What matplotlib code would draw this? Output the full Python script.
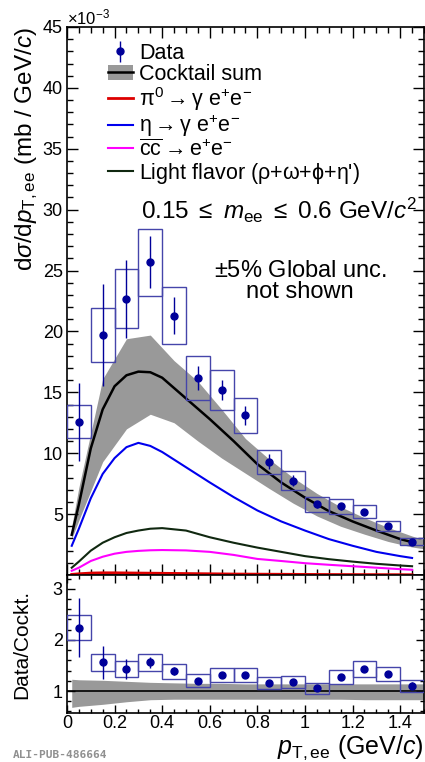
import matplotlib
matplotlib.use('Agg')
import matplotlib.pyplot as plt
from matplotlib.patches import Rectangle, Patch
from matplotlib.lines import Line2D
from matplotlib.ticker import MultipleLocator, FuncFormatter
import numpy as np

plt.rcParams['font.family'] = ['Liberation Sans', 'DejaVu Sans']
plt.rcParams['mathtext.fontset'] = 'custom'
plt.rcParams['mathtext.rm'] = 'Liberation Sans'
plt.rcParams['mathtext.it'] = 'Liberation Sans:italic'
plt.rcParams['mathtext.bf'] = 'Liberation Sans:bold'

# pT bin centres (GeV/c), bin width 0.1
pt_bins = [0.05, 0.15, 0.25, 0.35, 0.45, 0.55, 0.65, 0.75,
           0.85, 0.95, 1.05, 1.15, 1.25, 1.35, 1.45]
bin_width = 0.1

# dsigma/dpT in units of 1e-3 mb/(GeV/c)
xsec = [12.6, 19.7, 22.7, 25.7, 21.3, 16.2, 15.2, 13.1,
        9.3, 7.75, 5.8, 5.65, 5.2, 4.0, 2.75]
xsec_stat = [3.2, 4.2, 3.2, 2.1, 1.55, 1.0, 0.85, 0.75,
             0.6, 0.45, 0.3, 0.3, 0.25, 0.2, 0.15]
xsec_syst = [1.35, 2.2, 2.45, 2.75, 2.35, 1.8, 1.65, 1.4,
             1.0, 0.8, 0.6, 0.6, 0.55, 0.42, 0.27]

# data / cocktail
ratio = [2.24, 1.56, 1.43, 1.56, 1.39, 1.2, 1.32, 1.32,
         1.15, 1.17, 1.05, 1.28, 1.43, 1.33, 1.10]
ratio_stat = [0.58, 0.33, 0.2, 0.1, 0.08, 0.05, 0.05, 0.05,
              0.05, 0.05, 0.04, 0.05, 0.06, 0.06, 0.07]
ratio_syst = [0.245, 0.17, 0.155, 0.16, 0.145, 0.125, 0.14, 0.14,
              0.12, 0.12, 0.11, 0.14, 0.15, 0.14, 0.115]

# cocktail components (1e-3 mb/(GeV/c))
cocktail_pt = [0.02, 0.05, 0.1, 0.15, 0.2, 0.25, 0.3, 0.35, 0.4, 0.5,
               0.6, 0.7, 0.8, 0.9, 1.0, 1.1, 1.2, 1.3, 1.4, 1.45]
cocktail_sum = [3.3, 5.8, 10.4, 13.6, 15.5, 16.4, 16.7, 16.65, 16.2, 14.5,
                12.8, 11.0, 9.1, 7.6, 6.35, 5.25, 4.4, 3.65, 2.95, 2.7]
eta_ee = [2.4, 3.8, 6.3, 8.3, 9.6, 10.5, 10.85, 10.6, 10.1, 8.85,
          7.6, 6.4, 5.3, 4.4, 3.65, 2.95, 2.4, 1.9, 1.55, 1.4]
light_flavor = [0.6, 1.1, 2.0, 2.65, 3.1, 3.45, 3.65, 3.8, 3.85, 3.65,
                3.1, 2.65, 2.25, 1.9, 1.55, 1.3, 1.1, 0.92, 0.78, 0.72]
ccbar = [0.35, 0.6, 1.15, 1.5, 1.75, 1.9, 1.98, 2.03, 2.05, 2.02,
         1.9, 1.65, 1.32, 1.15, 0.97, 0.84, 0.72, 0.6, 0.48, 0.43]
pi0_ee = [0.05, 0.1, 0.16, 0.18, 0.18, 0.17, 0.16, 0.15, 0.14, 0.12,
          0.1, 0.08, 0.07, 0.06, 0.05, 0.04, 0.035, 0.03, 0.025, 0.02]

# cocktail uncertainty band
band_pt = [0.02, 0.05, 0.15, 0.25, 0.35, 0.45, 0.55, 0.65, 0.75,
           0.85, 0.95, 1.05, 1.15, 1.25, 1.35, 1.45, 1.5]
band_hi = [4.0, 7.2, 16.1, 19.4, 19.7, 17.6, 15.9, 13.6, 11.2,
           9.5, 8.0, 6.7, 5.6, 4.7, 3.9, 3.2, 2.9]
band_lo = [3.0, 4.5, 9.3, 12.0, 13.2, 12.5, 11.0, 9.6, 8.35,
           7.1, 5.9, 4.85, 4.0, 3.35, 2.75, 2.3, 2.15]
ratio_band_hi = [1.23, 1.22, 1.21, 1.19, 1.17, 1.16, 1.15, 1.15, 1.14,
                 1.14, 1.14, 1.14, 1.14, 1.14, 1.14, 1.14, 1.14]
ratio_band_lo = [0.68, 0.70, 0.74, 0.79, 0.83, 0.84, 0.84, 0.84, 0.84,
                 0.84, 0.84, 0.84, 0.84, 0.83, 0.83, 0.83, 0.83]

navy = '#000099'
box_col = '#4545aa'
grey = '#999999'

fig = plt.figure(figsize=(4.25, 7.62), dpi=100)
ax1 = fig.add_axes([0.1576, 0.2454, 0.84, 0.7192])
ax2 = fig.add_axes([0.1576, 0.0643, 0.84, 0.1811], sharex=ax1)


def draw_points(ax, vals, stat, syst):
    for x, v, s in zip(pt_bins, vals, syst):
        ax.add_patch(Rectangle((x - bin_width / 2, v - s), bin_width, 2 * s,
                               fill=False, ec=box_col, lw=1.0, zorder=4))
    return ax.errorbar(pt_bins, vals, yerr=stat, fmt='o', color=navy, ms=5,
                       elinewidth=1.0, capsize=0, zorder=5)


# upper panel
ax1.fill_between(band_pt, band_lo, band_hi, color=grey, lw=0, zorder=1)
l_sum, = ax1.plot(cocktail_pt, cocktail_sum, color='black', lw=1.8, zorder=3)
l_eta, = ax1.plot(cocktail_pt, eta_ee, color='#0000ee', lw=1.5, zorder=3)
l_lf, = ax1.plot(cocktail_pt, light_flavor, color='#102810', lw=1.5, zorder=3)
l_cc, = ax1.plot(cocktail_pt, ccbar, color='#ff00ff', lw=1.5, zorder=3)
l_pi0, = ax1.plot(cocktail_pt, pi0_ee, color='#dd0000', lw=2.0, zorder=3)
h_data = draw_points(ax1, xsec, xsec_stat, xsec_syst)

ax1.set_xlim(0, 1.5)
ax1.set_ylim(0, 45)
ax1.yaxis.set_major_locator(MultipleLocator(5))
ax1.yaxis.set_minor_locator(MultipleLocator(1))
ax1.yaxis.set_major_formatter(FuncFormatter(lambda v, p: '' if v == 0 else f'{v:g}'))
ax1.xaxis.set_major_locator(MultipleLocator(0.2))
ax1.xaxis.set_minor_locator(MultipleLocator(0.05))
ax1.tick_params(axis='x', labelbottom=False)
ax1.text(0.0, 1.0, r'$\times10^{-3}$', transform=ax1.transAxes,
         ha='left', va='bottom', fontsize=12)
ax1.set_ylabel(r'd$\sigma$/d$p_{\rm T,ee}$ (mb / GeV/$c$)', fontsize=17.5, loc='top')
ax1.yaxis.set_label_coords(-0.075, 1.0)

handles = [h_data, (Patch(fc=grey, ec='none'), Line2D([], [], color='black', lw=1.8)),
           l_pi0, l_eta, l_cc, l_lf]
labels = ['Data', 'Cocktail sum',
          r'$\mathrm{\pi^{0}}\rightarrow\mathrm{\gamma\ e^{+}e^{-}}$',
          r'$\mathrm{\eta}\rightarrow\mathrm{\gamma\ e^{+}e^{-}}$',
          r'$\overline{\mathrm{cc}}\rightarrow\mathrm{e^{+}e^{-}}$',
          r"Light flavor ($\mathrm{\rho}$+$\mathrm{\omega}$+$\mathrm{\phi}$+$\mathrm{\eta}$')"]
ax1.legend(handles, labels, loc='upper left', bbox_to_anchor=(0.115, 0.971),
           frameon=False, fontsize=15.5, handlelength=1.15, handletextpad=0.3,
           labelspacing=0.0, borderpad=0, borderaxespad=0)

ax1.text(0.98, 0.666, r'0.15 $\leq$ $m_{\rm ee}$ $\leq$ 0.6 GeV/$c^{2}$',
         transform=ax1.transAxes, ha='right', va='center', fontsize=17.5)
ax1.text(0.653, 0.536, '$\\pm$5% Global unc.\nnot shown', transform=ax1.transAxes,
         ha='center', va='center', fontsize=17, linespacing=0.95)

# ratio panel
ax2.fill_between(band_pt, ratio_band_lo, ratio_band_hi, color=grey, lw=0, zorder=1)
ax2.axhline(1.0, color='black', lw=1.2, zorder=2)
draw_points(ax2, ratio, ratio_stat, ratio_syst)
ax2.set_ylim(0.57, 3.27)
ax2.yaxis.set_major_locator(MultipleLocator(1))
ax2.yaxis.set_minor_locator(MultipleLocator(0.2))
ax2.yaxis.set_major_formatter(FuncFormatter(lambda v, p: f'{v:g}'))
ax2.xaxis.set_major_formatter(FuncFormatter(lambda v, p: f'{v:g}'))
ax2.set_ylabel('Data/Cockt.', fontsize=15)
ax2.yaxis.set_label_coords(-0.1, 0.5)
ax2.set_xlabel(r'$p_{\rm T,ee}$ (GeV/$c$)', fontsize=18, loc='right')
ax2.xaxis.set_label_coords(1.0, -0.15)

for ax in (ax1, ax2):
    for sp in ax.spines.values():
        sp.set_linewidth(1.2)
    ax.tick_params(which='both', direction='in', top=True, right=True,
                   labelsize=13, width=1.0, pad=3)
ax1.tick_params(which='major', length=8)
ax1.tick_params(which='minor', length=4)
ax2.tick_params(which='major', length=6)
ax2.tick_params(which='minor', length=3)
ax2.tick_params(axis='x', pad=1.5)

fig.text(13 / 425, 1 - 755 / 762, 'ALI-PUB-486664', fontsize=8,
         family='DejaVu Sans Mono', weight='bold', color='#909090',
         ha='left', va='center')

fig.savefig('out.png', dpi=100)
